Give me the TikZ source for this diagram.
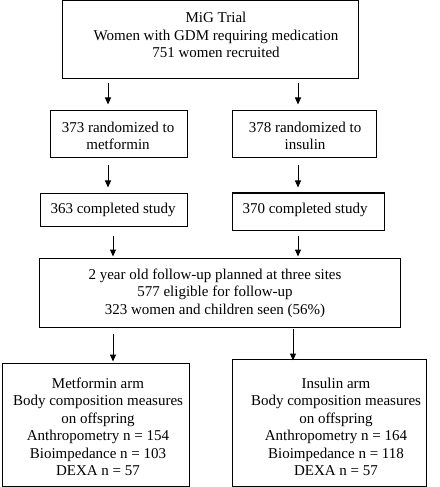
\documentclass[tikz,border=0pt]{standalone}
\usepackage{fontspec}
\setmainfont{Liberation Serif}
\usetikzlibrary{arrows.meta,calc}
\begin{document}
\begin{tikzpicture}[x=1bp,y=-1bp,
  box/.style={draw,line width=1bp,inner sep=0pt,anchor=center},
  txt/.style={align=center,inner sep=0pt,font=\fontsize{15bp}{17.5bp}\selectfont},
  arr/.style={line width=1bp,-{Triangle[length=7bp,width=6bp]}}]
\useasboundingbox (0,0) rectangle (440,487);
% boxes
\node[box,minimum width=295bp,minimum height=78bp] (top) at (210.5,40) {};
\node[box,minimum width=137bp,minimum height=47bp] (b373) at (118.5,134.5) {};
\node[box,minimum width=144bp,minimum height=47bp] (b378) at (304,134.5) {};
\node[box,minimum width=147bp,minimum height=33bp] (b363) at (113.5,209.5) {};
\node[box,minimum width=152bp,minimum height=37bp] (b370) at (308,211.5) {};
\node[box,minimum width=360bp,minimum height=69bp] (fu) at (220,292.5) {};
\node[box,minimum width=186bp,minimum height=123bp] (bl) at (96,424.5) {};
\node[box,minimum width=194bp,minimum height=127bp] (br) at (329,422.5) {};
% texts
\node[txt] (topt) at (216,35) {MiG Trial\\Women with GDM requiring medication\\751 women recruited};
\node[txt] (b373t) at (118,136) {373 randomized to\\metformin};
\node[txt] (b378t) at (305,136) {378 randomized to\\insulin};
\node[txt] (b363t) at (113,210) {363 completed study};
\node[txt] (b370t) at (305,210) {370 completed study};
\node[txt] (fut) at (215,293) {2 year old follow-up planned at three sites\\577 eligible for follow-up\\323 women and children seen (56\%)};
\node[txt] (blt) at (98,427) {Metformin arm\\Body composition measures\\on offspring\\Anthropometry n = 154\\Bioimpedance n = 103\\DEXA n = 57};
\node[txt] (brt) at (336,427) {Insulin arm\\Body composition measures\\on offspring\\Anthropometry n = 164\\Bioimpedance n = 118\\DEXA n = 57};
% arrow columns
\coordinate (cl) at (108,0);
\coordinate (cr) at (298,0);
\coordinate (dl) at (113,0);
\coordinate (dr) at (293,0);
\draw[arr] ($(top.south -| cl)+(0,4)$) -- ($(b373.north -| cl)+(0,-6)$);
\draw[arr] ($(top.south -| cr)+(0,4)$) -- ($(b378.north -| cr)+(0,-6)$);
\draw[arr] ($(b373.south -| cl)+(0,7)$) -- ($(b363.north -| cl)+(0,-5)$);
\draw[arr] ($(b378.south -| cr)+(0,7)$) -- ($(b370.north -| cr)+(0,-5)$);
\draw[arr] ($(b363.south -| dl)+(0,9)$) -- ($(fu.north -| dl)+(0,-1)$);
\draw[arr] ($(b370.south -| cr)+(0,5)$) -- ($(fu.north -| cr)+(0,-1)$);
\draw[arr] ($(fu.south -| dl)+(0,6)$) -- ($(bl.north -| dl)+(0,-1)$);
\draw[arr] ($(fu.south -| dr)+(0,1)$) -- ($(br.north -| dr)+(0,2)$);
\end{tikzpicture}
\end{document}
